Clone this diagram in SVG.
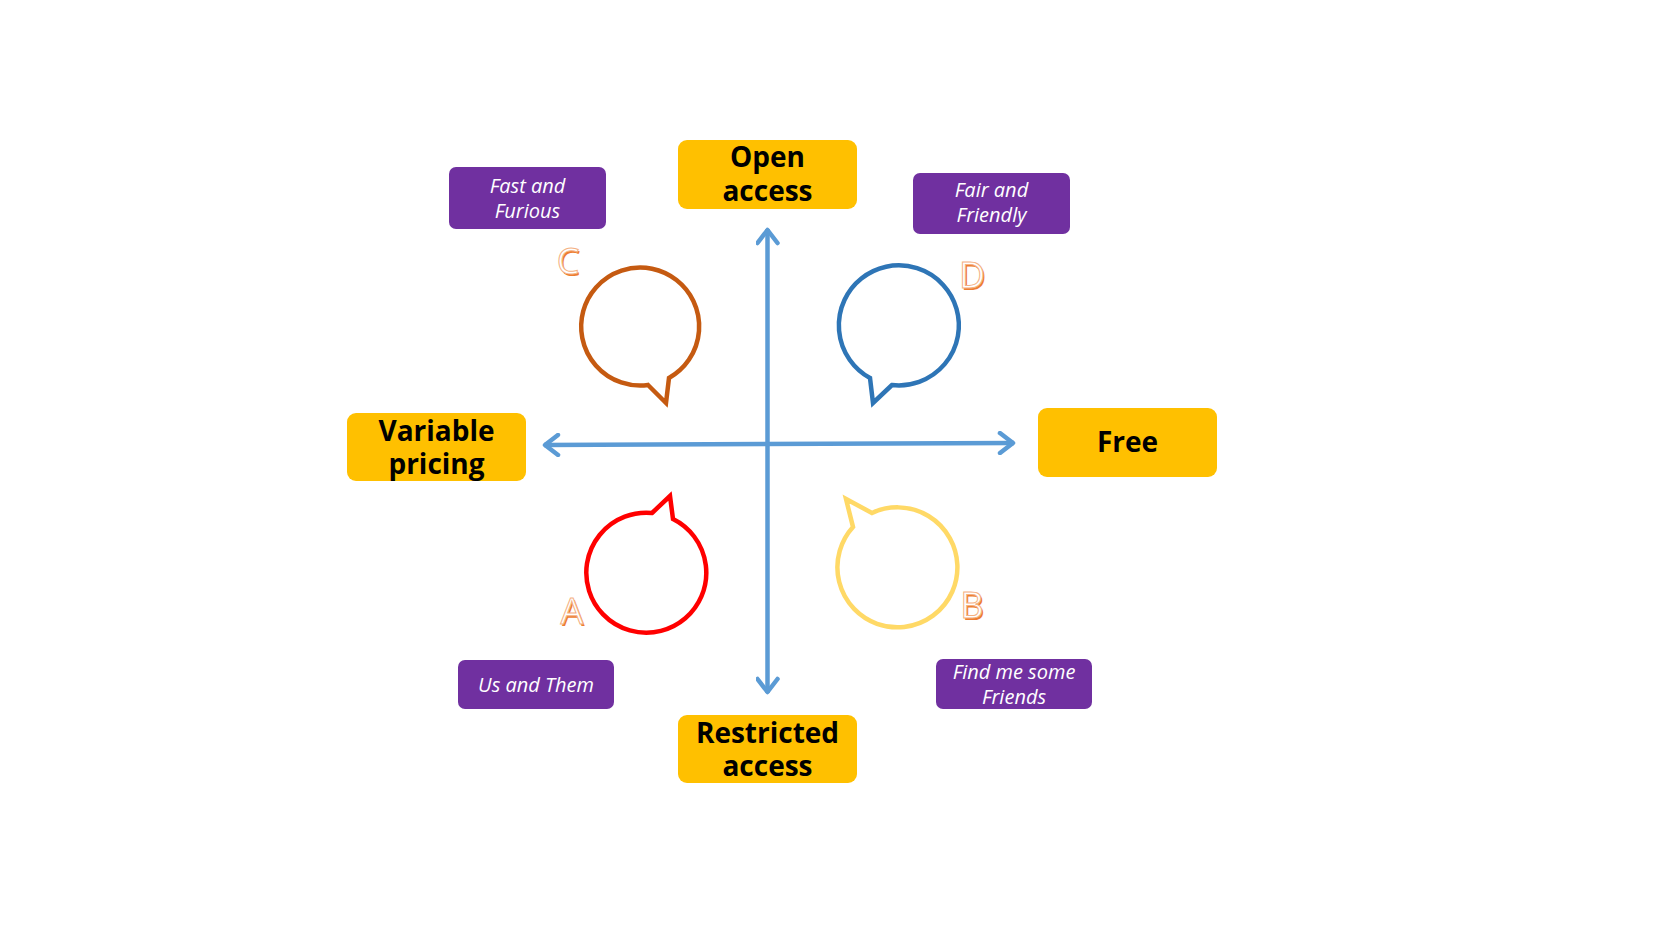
<svg xmlns="http://www.w3.org/2000/svg" width="1680" height="945" viewBox="0 0 1680 945">
<style>
.ybox{fill:#FFC000}
.pbox{fill:#7030A0}
.yt{font-family:"Open Sans","Liberation Sans",sans-serif;font-weight:bold;font-size:28px;fill:#000;text-anchor:middle}
.pt{font-family:"Open Sans","Liberation Sans",sans-serif;font-style:italic;font-size:20px;fill:#fff;text-anchor:middle}
.axis{stroke:#5B9BD5;stroke-width:4.5;fill:none}
.bub{fill:none;stroke-width:4.5;stroke-linejoin:miter}
.lsh{font-family:"Open Sans","Liberation Sans",sans-serif;font-size:36px;fill:#ED7D31;text-anchor:middle}
.lt{font-family:"Open Sans","Liberation Sans",sans-serif;font-size:36px;fill:#fff;stroke:#F4B183;stroke-width:1;text-anchor:middle}
</style>
<defs>
<marker id="arr" viewBox="0 0 20 24" refX="18" refY="12" markerWidth="20" markerHeight="24" markerUnits="userSpaceOnUse" orient="auto-start-reverse">
<path d="M4,2 L17,12 L4,22" fill="none" stroke="#5B9BD5" stroke-width="4.5" stroke-linecap="round" stroke-linejoin="round"/>
</marker>
</defs>
<rect width="1680" height="945" fill="#fff"/>
<g id="connectors">
<line class="axis" x1="767.5" y1="229" x2="767.5" y2="693" marker-start="url(#arr)" marker-end="url(#arr)"/>
<line class="axis" x1="544" y1="445" x2="1014" y2="443" marker-start="url(#arr)" marker-end="url(#arr)"/>
</g>
<g id="open-access">
<rect class="ybox" x="678" y="140" width="179" height="69" rx="9"/>
<text class="yt" x="767.5" y="167">Open</text>
<text class="yt" x="767.5" y="201">access</text>
</g>
<g id="restricted-access">
<rect class="ybox" x="678" y="715" width="179" height="68" rx="9"/>
<text class="yt" x="767.5" y="743">Restricted</text>
<text class="yt" x="767.5" y="776">access</text>
</g>
<g id="variable-pricing">
<rect class="ybox" x="347" y="413" width="179" height="68" rx="9"/>
<text class="yt" x="436.5" y="441">Variable</text>
<text class="yt" x="436.5" y="474">pricing</text>
</g>
<g id="free">
<rect class="ybox" x="1038" y="408" width="179" height="69" rx="9"/>
<text class="yt" x="1127.5" y="452">Free</text>
</g>
<g id="fast-and-furious">
<rect class="pbox" x="449" y="167" width="157" height="62" rx="7"/>
<text class="pt" x="527.5" y="193">Fast and</text>
<text class="pt" x="527.5" y="218">Furious</text>
</g>
<g id="fair-and-friendly">
<rect class="pbox" x="913" y="173" width="157" height="61" rx="7"/>
<text class="pt" x="991.5" y="197">Fair and</text>
<text class="pt" x="991.5" y="222">Friendly</text>
</g>
<g id="us-and-them">
<rect class="pbox" x="458" y="660" width="156" height="49" rx="7"/>
<text class="pt" x="536" y="692">Us and Them</text>
</g>
<g id="find-me-some-friends">
<rect class="pbox" x="936" y="659" width="156" height="50" rx="7"/>
<text class="pt" x="1014" y="679">Find me some</text>
<text class="pt" x="1014" y="704">Friends</text>
</g>
<g id="bubble-c">
<path class="bub" stroke="#C55A11" d="M648,385 L666,403 L669,378 A59,59 0 1 0 648,385 Z"/>
<text class="lsh" x="569.5" y="275.5">C</text>
<text class="lt" x="568" y="274">C</text>
</g>
<g id="bubble-d">
<path class="bub" stroke="#2E75B6" d="M892,385 L873,403 L870,378 A60,60 0 1 1 892,385 Z"/>
<text class="lsh" x="973.5" y="289.5">D</text>
<text class="lt" x="972" y="288">D</text>
</g>
<g id="bubble-a">
<path class="bub" stroke="#FF0000" stroke-width="5" d="M652,513 L670,496 L673,519 A60,60 0 1 1 652,513 Z"/>
<text class="lsh" x="573.5" y="625.5">A</text>
<text class="lt" x="572" y="624">A</text>
</g>
<g id="bubble-b">
<path class="bub" stroke="#FFD966" d="M872,513 L846,499 L853,527 A60,60 0 1 0 872,513 Z"/>
<text class="lsh" x="973.5" y="619.5">B</text>
<text class="lt" x="972" y="618">B</text>
</g>
</svg>
